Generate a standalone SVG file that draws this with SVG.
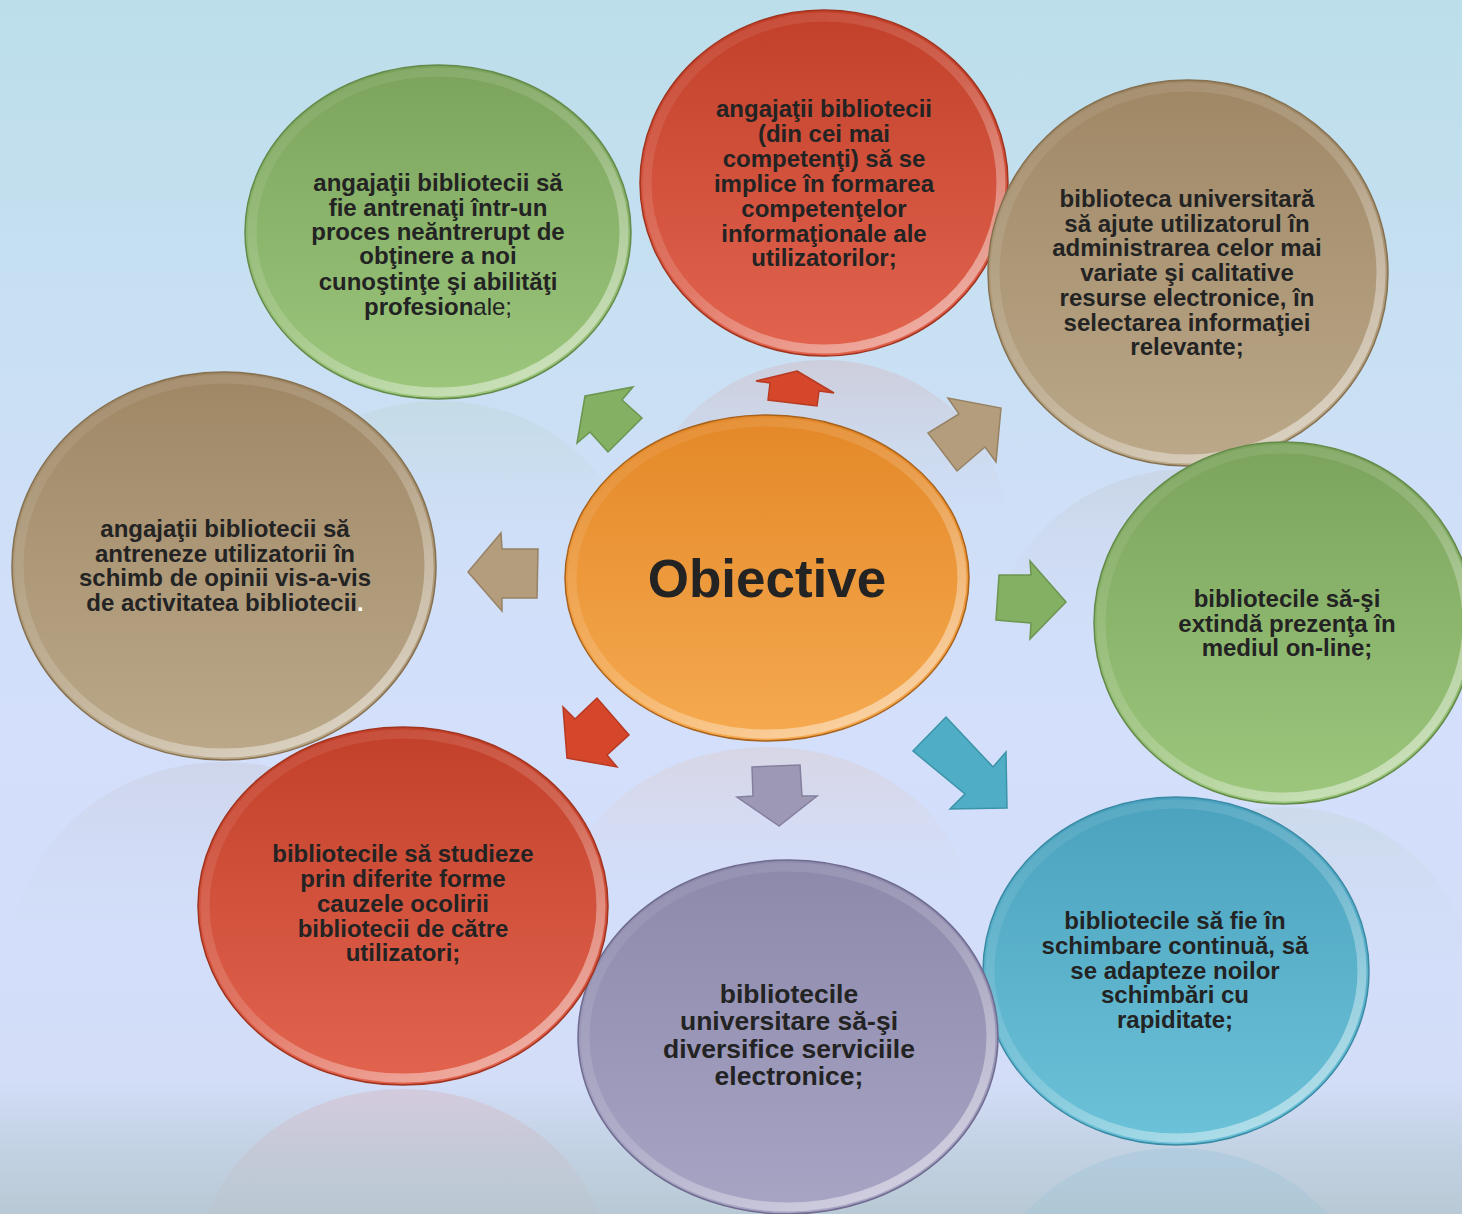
<svg xmlns="http://www.w3.org/2000/svg" width="1462" height="1214" viewBox="0 0 1462 1214">
<defs>
<style>
.t{font-family:"Liberation Sans",Arial,Helvetica,sans-serif;font-weight:bold;font-size:24px;fill:#232323;text-anchor:middle}
.tb{font-size:26.5px}
.edge{stroke-width:1.5}
.rim{fill:none;stroke:url(#rim);stroke-width:9}
.arr{stroke-width:1.5;stroke-linejoin:miter}
</style>
<linearGradient id="bg" x1="0" y1="0" x2="0" y2="1">
<stop offset="0" stop-color="#bcdeea"/>
<stop offset="0.25" stop-color="#c7e0f2"/>
<stop offset="0.45" stop-color="#d0dff8"/>
<stop offset="0.6" stop-color="#d3dffb"/>
<stop offset="0.89" stop-color="#d3ddf8"/>
<stop offset="0.94" stop-color="#c4d3e5"/>
<stop offset="1" stop-color="#b8c9d5"/>
</linearGradient>
<linearGradient id="rim" x1="0.15" y1="0.05" x2="0.85" y2="0.95">
<stop offset="0" stop-color="#fff" stop-opacity="0.06"/>
<stop offset="0.5" stop-color="#fff" stop-opacity="0.16"/>
<stop offset="1" stop-color="#fff" stop-opacity="0.5"/>
</linearGradient>
<linearGradient id="gGreen" x1="0" y1="0" x2="0" y2="1"><stop offset="0" stop-color="#7ba35c"/><stop offset="1" stop-color="#9dc77d"/></linearGradient>
<linearGradient id="gRed" x1="0" y1="0" x2="0" y2="1"><stop offset="0" stop-color="#c2402a"/><stop offset="1" stop-color="#e2644f"/></linearGradient>
<linearGradient id="gTan" x1="0" y1="0" x2="0" y2="1"><stop offset="0" stop-color="#9f8765"/><stop offset="1" stop-color="#bba98a"/></linearGradient>
<linearGradient id="gOrange" x1="0" y1="0" x2="0" y2="1"><stop offset="0" stop-color="#e38828"/><stop offset="1" stop-color="#f6aa50"/></linearGradient>
<linearGradient id="gPurple" x1="0" y1="0" x2="0" y2="1"><stop offset="0" stop-color="#8d89ab"/><stop offset="1" stop-color="#a7a4c4"/></linearGradient>
<linearGradient id="gBlue" x1="0" y1="0" x2="0" y2="1"><stop offset="0" stop-color="#4ba2be"/><stop offset="1" stop-color="#6cc2d8"/></linearGradient>
<linearGradient id="rfRed" x1="0" y1="0" x2="0" y2="1"><stop offset="0" stop-color="#e07060" stop-opacity="0.16"/><stop offset="0.25" stop-color="#e07060" stop-opacity="0.05"/><stop offset="0.45" stop-color="#e07060" stop-opacity="0"/></linearGradient>
<linearGradient id="rfOrange" x1="0" y1="0" x2="0" y2="1"><stop offset="0" stop-color="#f0a060" stop-opacity="0.14"/><stop offset="0.25" stop-color="#f0a060" stop-opacity="0.04"/><stop offset="0.45" stop-color="#f0a060" stop-opacity="0"/></linearGradient>
<linearGradient id="rfTan" x1="0" y1="0" x2="0" y2="1"><stop offset="0" stop-color="#b0a090" stop-opacity="0.14"/><stop offset="0.25" stop-color="#b0a090" stop-opacity="0.04"/><stop offset="0.45" stop-color="#b0a090" stop-opacity="0"/></linearGradient>
<linearGradient id="rfGreen" x1="0" y1="0" x2="0" y2="1"><stop offset="0" stop-color="#a0c090" stop-opacity="0.14"/><stop offset="0.25" stop-color="#a0c090" stop-opacity="0.04"/><stop offset="0.45" stop-color="#a0c090" stop-opacity="0"/></linearGradient>
<linearGradient id="rfBlue" x1="0" y1="0" x2="0" y2="1"><stop offset="0" stop-color="#70b8d0" stop-opacity="0.2"/><stop offset="0.3" stop-color="#70b8d0" stop-opacity="0.07"/><stop offset="0.5" stop-color="#70b8d0" stop-opacity="0"/></linearGradient>
</defs>

<rect x="0" y="0" width="1462" height="1214" fill="url(#bg)"/>

<g id="reflections">
<ellipse cx="824" cy="533" rx="184" ry="173" fill="url(#rfRed)"/>
<ellipse cx="438" cy="568" rx="193" ry="167" fill="url(#rfGreen)"/>
<ellipse cx="1188" cy="662" rx="200" ry="193" fill="url(#rfTan)"/>
<ellipse cx="224" cy="956" rx="212" ry="194" fill="url(#rfTan)"/>
<ellipse cx="767" cy="910" rx="202" ry="163" fill="url(#rfOrange)"/>
<ellipse cx="1284" cy="988" rx="190" ry="181" fill="url(#rfGreen)"/>
<ellipse cx="403" cy="1268" rx="205" ry="179" fill="url(#rfRed)"/>
<ellipse cx="1176" cy="1322" rx="193" ry="174" fill="url(#rfBlue)"/>
</g>

<g id="connectors">
<polygon class="arr" points="797,371 834,393 819,391 817,406 768,400 770,383 756,381" fill="#d5462a" stroke="#b73a22"/>
<polygon class="arr" points="1001,408 996,462 985,447 957,471 928,433 959,414 948,398" fill="#b39d7d" stroke="#978264"/>
<polygon class="arr" points="1066,602 1030,639 1031,623 996,620 999,575 1031,575 1030,561" fill="#84b064" stroke="#6c954f"/>
<polygon class="arr" points="1007,808 950,809 965,794 913,751 946,717 993,767 1006,752" fill="#4faec6" stroke="#3b93aa"/>
<polygon class="arr" points="779,826 737,797 753,796 752,767 800,765 802,796 817,796" fill="#9d99b5" stroke="#847f9e"/>
<polygon class="arr" points="567,758 563,707 575,719 597,698 629,735 607,755 617,767" fill="#d5462a" stroke="#b73a22"/>
<polygon class="arr" points="468,572 501,533 502,549 538,549 537,598 502,598 502,611" fill="#b39d7d" stroke="#978264"/>
<polygon class="arr" points="585,396 633,387 622,400 642,418 608,452 590,432 577,443" fill="#84b064" stroke="#6c954f"/>
</g>

<g id="node-top">
<ellipse cx="824" cy="183" rx="184" ry="173" fill="url(#gRed)" stroke="#a0341f" class="edge"/>
<ellipse class="rim" cx="824" cy="183" rx="177" ry="166"/>
<text class="t"><tspan x="824" y="117">angajaţii bibliotecii</tspan><tspan x="824" y="142">(din cei mai</tspan><tspan x="824" y="167">competenţi) să se</tspan><tspan x="824" y="192">implice în formarea</tspan><tspan x="824" y="217">competenţelor</tspan><tspan x="824" y="242">informaţionale ale</tspan><tspan x="824" y="266">utilizatorilor;</tspan></text>
</g>

<g id="node-topright">
<ellipse cx="1188" cy="273" rx="200" ry="193" fill="url(#gTan)" stroke="#85704f" class="edge"/>
<ellipse class="rim" cx="1188" cy="273" rx="193" ry="186"/>
<text class="t"><tspan x="1187" y="207">biblioteca universitară</tspan><tspan x="1187" y="232">să ajute utilizatorul în</tspan><tspan x="1187" y="256">administrarea celor mai</tspan><tspan x="1187" y="281">variate şi calitative</tspan><tspan x="1187" y="306">resurse electronice, în</tspan><tspan x="1187" y="331">selectarea informaţiei</tspan><tspan x="1187" y="355">relevante;</tspan></text>
</g>

<g id="node-right">
<ellipse cx="1284" cy="623" rx="190" ry="181" fill="url(#gGreen)" stroke="#648a4a" class="edge"/>
<ellipse class="rim" cx="1284" cy="623" rx="183" ry="174"/>
<text class="t"><tspan x="1287" y="607">bibliotecile să-şi</tspan><tspan x="1287" y="632">extindă prezenţa în</tspan><tspan x="1287" y="656">mediul on-line;</tspan></text>
</g>

<g id="node-bottomright">
<ellipse cx="1176" cy="971" rx="193" ry="174" fill="url(#gBlue)" stroke="#3a8aa4" class="edge"/>
<ellipse class="rim" cx="1176" cy="971" rx="186" ry="167"/>
<text class="t"><tspan x="1175" y="929">bibliotecile să fie în</tspan><tspan x="1175" y="954">schimbare continuă, să</tspan><tspan x="1175" y="979">se adapteze noilor</tspan><tspan x="1175" y="1003">schimbări cu</tspan><tspan x="1175" y="1028">rapiditate;</tspan></text>
</g>

<g id="node-bottom">
<ellipse cx="788" cy="1037" rx="210" ry="177" fill="url(#gPurple)" stroke="#6f6b8f" class="edge"/>
<ellipse class="rim" cx="788" cy="1037" rx="203" ry="170"/>
<text class="t tb"><tspan x="789" y="1003">bibliotecile</tspan><tspan x="789" y="1030">universitare să-şi</tspan><tspan x="789" y="1058">diversifice serviciile</tspan><tspan x="789" y="1085">electronice;</tspan></text>
</g>

<g id="node-bottomleft">
<ellipse cx="403" cy="906" rx="205" ry="179" fill="url(#gRed)" stroke="#a0341f" class="edge"/>
<ellipse class="rim" cx="403" cy="906" rx="198" ry="172"/>
<text class="t"><tspan x="403" y="862">bibliotecile să studieze</tspan><tspan x="403" y="887">prin diferite forme</tspan><tspan x="403" y="912">cauzele ocolirii</tspan><tspan x="403" y="937">bibliotecii de către</tspan><tspan x="403" y="961">utilizatori;</tspan></text>
</g>

<g id="node-left">
<ellipse cx="224" cy="566" rx="212" ry="194" fill="url(#gTan)" stroke="#85704f" class="edge"/>
<ellipse class="rim" cx="224" cy="566" rx="205" ry="187"/>
<text class="t"><tspan x="225" y="537">angajaţii bibliotecii să</tspan><tspan x="225" y="562">antreneze utilizatorii în</tspan><tspan x="225" y="586">schimb de opinii vis-a-vis</tspan><tspan x="225" y="611">de activitatea bibliotecii<tspan fill="#ffffff">.</tspan></tspan></text>
</g>

<g id="node-topleft">
<ellipse cx="438" cy="232" rx="193" ry="167" fill="url(#gGreen)" stroke="#648a4a" class="edge"/>
<ellipse class="rim" cx="438" cy="232" rx="186" ry="160"/>
<text class="t"><tspan x="438" y="191">angajaţii bibliotecii să</tspan><tspan x="438" y="216">fie antrenaţi într-un</tspan><tspan x="438" y="240">proces neăntrerupt de</tspan><tspan x="438" y="264">obţinere a noi</tspan><tspan x="438" y="290">cunoştinţe şi abilităţi</tspan><tspan x="438" y="315">profesion<tspan font-weight="normal">ale;</tspan></tspan></text>
</g>

<g id="node-center">
<ellipse cx="767" cy="578" rx="202" ry="163" fill="url(#gOrange)" stroke="#a8621c" class="edge"/>
<ellipse class="rim" cx="767" cy="578" rx="195" ry="156"/>
<text class="t" x="767" y="597" style="font-size:53px">Obiective</text>
</g>
</svg>
